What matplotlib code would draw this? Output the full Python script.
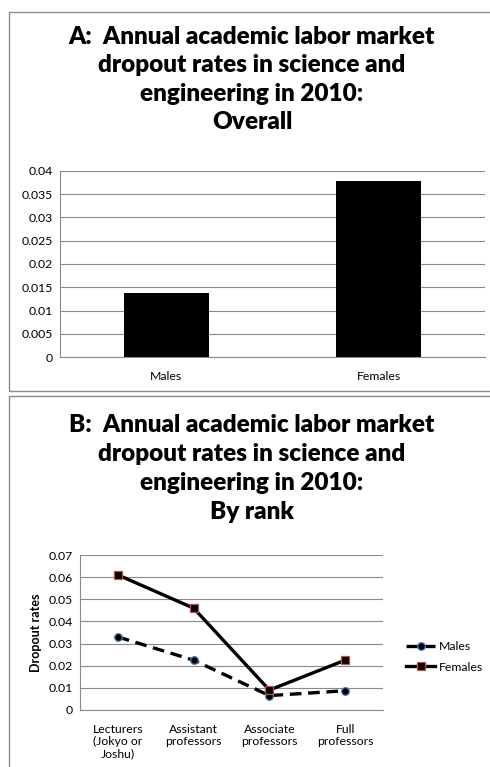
import matplotlib
matplotlib.use("Agg")
import matplotlib.pyplot as plt
from matplotlib.patches import Rectangle

plt.rcParams['font.family'] = ['Lato', 'DejaVu Sans']

# Panel A data
sexes = ["Males", "Females"]
overall_rates = [0.0137, 0.0378]

# Panel B data
ranks = ["Lecturers\n(Jokyo or\nJoshu)", "Assistant\nprofessors",
         "Associate\nprofessors", "Full\nprofessors"]
males_by_rank = [0.033, 0.0225, 0.0065, 0.0087]
females_by_rank = [0.061, 0.046, 0.009, 0.0225]

W, H = 490, 767
fig = plt.figure(figsize=(W / 100, H / 100), dpi=100)


def px_axes(x0, y0, x1, y1):
    # pixel box (top-left origin) -> figure axes
    return fig.add_axes([x0 / W, 1 - y1 / H, (x1 - x0) / W, (y1 - y0) / H])


# panel borders
for (y0, y1) in [(12, 391), (396, 780)]:
    fig.patches.append(Rectangle((8.5 / W, 1 - y1 / H), 600 / W, (y1 - y0) / H,
                                 transform=fig.transFigure, fill=False,
                                 edgecolor="#8c8c8c", linewidth=1.0))

title_kw = dict(ha="center", va="center", fontsize=17.5, fontweight="heavy",
                color="black")
titleA = ["A:  Annual academic labor market", "dropout rates in science and",
          "engineering in 2010:", "Overall"]
titleB = ["B:  Annual academic labor market", "dropout rates in science and",
          "engineering in 2010:", "By rank"]
for i, line in enumerate(titleA):
    fig.text(252 / W, 1 - (37 + 28.3 * i) / H, line, **title_kw)
for i, line in enumerate(titleB):
    fig.text(252 / W, 1 - (425 + 29 * i) / H, line, **title_kw)

grid_c = "#8a8a8a"
tick_fs = 8.8

# ---- Panel A: bar chart
axA = px_axes(60, 170.7, 485, 357.3)
axA.bar(range(len(sexes)), overall_rates, width=0.4, color="black", zorder=3)
axA.set_xlim(-0.5, 1.5)
axA.set_ylim(0, 0.04)
axA.set_yticks([0, 0.005, 0.01, 0.015, 0.02, 0.025, 0.03, 0.035, 0.04])
axA.set_yticklabels(["0", "0.005", "0.01", "0.015", "0.02", "0.025", "0.03",
                     "0.035", "0.04"])
axA.set_xticks(range(len(sexes)))
axA.set_xticklabels(sexes)
axA.yaxis.grid(True, color=grid_c, linewidth=0.8, zorder=0)
for s in ["top", "right"]:
    axA.spines[s].set_visible(False)
for s in ["left", "bottom"]:
    axA.spines[s].set_color(grid_c)
    axA.spines[s].set_linewidth(0.8)
axA.tick_params(length=0, labelsize=tick_fs, pad=5)
axA.tick_params(axis="x", pad=10)

# ---- Panel B: line chart
axB = px_axes(80, 555, 383, 710)
xs = range(len(ranks))
axB.plot(xs, males_by_rank, color="black", linestyle=(0, (3.5, 2)), linewidth=2.4,
         marker="o", markersize=5.5, markerfacecolor="black",
         markeredgecolor="#4a7ebb", markeredgewidth=0.9, label="Males", zorder=3)
axB.plot(xs, females_by_rank, color="black", linewidth=2.4,
         marker="s", markersize=5.5, markerfacecolor="black",
         markeredgecolor="#c0504d", markeredgewidth=0.9, label="Females", zorder=4)
axB.set_xlim(-0.5, 3.5)
axB.set_ylim(0, 0.07)
axB.set_yticks([0, 0.01, 0.02, 0.03, 0.04, 0.05, 0.06, 0.07])
axB.set_yticklabels(["0", "0.01", "0.02", "0.03", "0.04", "0.05", "0.06", "0.07"])
axB.set_xticks(list(xs))
axB.set_xticklabels(ranks, linespacing=1.15, va="top")
axB.yaxis.grid(True, color=grid_c, linewidth=0.8, zorder=0)
for s in ["top", "right"]:
    axB.spines[s].set_visible(False)
for s in ["left", "bottom"]:
    axB.spines[s].set_color(grid_c)
    axB.spines[s].set_linewidth(0.8)
axB.tick_params(length=0, labelsize=tick_fs, pad=5)
axB.tick_params(axis="x", pad=10)
axB.set_ylabel("Dropout rates", fontsize=9, fontweight="bold", labelpad=5)
axB.legend(loc="center left", bbox_to_anchor=(400 / W, 1 - 657 / H),
           bbox_transform=fig.transFigure, frameon=False, fontsize=tick_fs,
           handlelength=2.4, handletextpad=0.3, labelspacing=0.75,
           borderpad=0)

fig.savefig("out.png", dpi=100)
